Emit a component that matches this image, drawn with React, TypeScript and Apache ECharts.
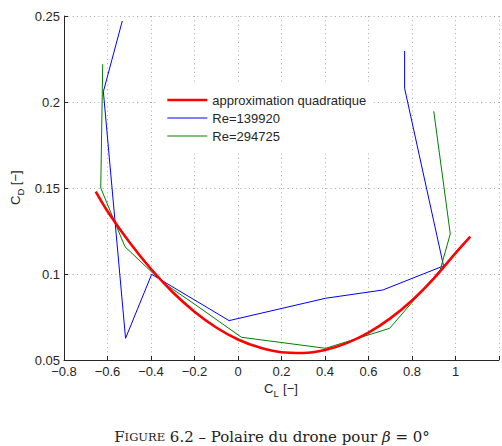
import React, { useEffect, useRef } from "react";
import * as echarts from "echarts";

// Quadratic drag-polar fit: C_D against C_L
const fitCL = [-0.654, -0.6, -0.5, -0.4, -0.3, -0.2, -0.1, 0, 0.1, 0.2, 0.3, 0.4, 0.5, 0.6, 0.7, 0.8, 0.9, 1.0, 1.068];
const fitCD = [0.1479, 0.1365, 0.1186, 0.1029, 0.0894, 0.0781, 0.0689, 0.0619, 0.0572, 0.0545, 0.0541, 0.0558, 0.0598, 0.0659, 0.0742, 0.0846, 0.0973, 0.1121, 0.1217];

// Measured polar, Re = 139920
const re1CL = [0.766, 0.766, 0.945, 0.666, 0.403, -0.041, -0.397, -0.517, -0.619, -0.532];
const re1CD = [0.2297, 0.208, 0.1047, 0.0907, 0.0859, 0.0729, 0.0998, 0.0626, 0.206, 0.2471];

// Measured polar, Re = 294725
const re2CL = [-0.622, -0.631, -0.52, -0.35, -0.2, 0.016, 0.403, 0.697, 0.93, 0.976, 0.9];
const re2CD = [0.222, 0.15, 0.1159, 0.0955, 0.0825, 0.0632, 0.0568, 0.0684, 0.1025, 0.1233, 0.1946];

const seriesNames = ["approximation quadratique", "Re=139920", "Re=294725"];

// Axis ranges and steps
const xMin = -0.8;
const xMax = 1.2;
const xStep = 0.2;
const yMin = 0.05;
const yMax = 0.25;
const yStep = 0.05;

const zip = (a: number[], b: number[]) => a.map((v, i) => [v, b[i]]);

const SANS = "'Liberation Sans', Arial, Helvetica, sans-serif";
const SERIF = "'DejaVu Serif', 'Liberation Serif', serif";
const INK = "#262626";

const fmt = (v: number) => String(+v.toFixed(2)).replace("-", "\u2212");

export default function App() {
  const ref = useRef<HTMLDivElement>(null);

  useEffect(() => {
    if (!ref.current) return;
    const chart = echarts.init(ref.current, undefined, { renderer: "svg" });

    const gridLine = { show: true, lineStyle: { color: "#a8a8a8", width: 1, type: [1, 3.3] as any } };

    chart.setOption({
      animation: false,
      backgroundColor: "#ffffff",
      grid: { left: 64, top: 16, width: 435, height: 344, containLabel: false },
      xAxis: {
        type: "value",
        min: xMin,
        max: xMax,
        interval: xStep,
        axisLine: { show: true, onZero: false, lineStyle: { color: INK, width: 1 } },
        axisTick: { show: true, inside: true, length: 4, lineStyle: { color: INK } },
        axisLabel: {
          color: INK,
          fontSize: 13,
          fontFamily: SANS,
          margin: 5,
          formatter: (v: number) => (Math.abs(v - xMax) < 1e-6 ? "" : fmt(v)),
        },
        splitLine: gridLine,
      },
      yAxis: {
        type: "value",
        min: yMin,
        max: yMax,
        interval: yStep,
        axisLine: { show: true, onZero: false, lineStyle: { color: INK, width: 1 } },
        axisTick: { show: true, inside: true, length: 4, lineStyle: { color: INK } },
        axisLabel: { color: INK, fontSize: 13, fontFamily: SANS, margin: 4, formatter: (v: number) => fmt(v) },
        splitLine: gridLine,
      },
      legend: {
        left: 158,
        top: 85,
        orient: "vertical",
        padding: [8.5, 6, 9.5, 8],
        itemGap: 5,
        itemWidth: 40,
        itemHeight: 14,
        backgroundColor: "#ffffff",
        itemStyle: { opacity: 0 },
        lineStyle: { width: "inherit" },
        textStyle: { color: INK, fontSize: 13, fontFamily: SANS, padding: [0, 0, 0, 0] },
        data: seriesNames,
      },
      series: [
        {
          name: seriesNames[0],
          type: "line",
          data: zip(fitCL, fitCD),
          smooth: 0.3,
          symbol: "none",
          lineStyle: { color: "#ff0000", width: 2.6 },
          itemStyle: { color: "#ff0000" },
          z: 3,
        },
        {
          name: seriesNames[1],
          type: "line",
          data: zip(re1CL, re1CD),
          symbol: "none",
          lineStyle: { color: "#0000ff", width: 1 },
          itemStyle: { color: "#0000ff" },
          z: 2,
        },
        {
          name: seriesNames[2],
          type: "line",
          data: zip(re2CL, re2CD),
          symbol: "none",
          lineStyle: { color: "#008000", width: 1 },
          itemStyle: { color: "#008000" },
          z: 2,
        },
      ],
      graphic: [
        // x-axis title: C_L [−]
        {
          type: "group",
          x: 281,
          y: 388,
          children: [
            { type: "text", x: -17, y: 0, style: { text: "C", fontSize: 13, fontFamily: SANS, fill: INK, textVerticalAlign: "middle" } },
            { type: "text", x: -7.4, y: 5, style: { text: "L", fontSize: 9.5, fontFamily: SANS, fill: INK, textVerticalAlign: "middle" } },
            { type: "text", x: -1.5, y: 0, style: { text: " [\u2212]", fontSize: 13, fontFamily: SANS, fill: INK, textVerticalAlign: "middle" } },
          ],
        },
        // y-axis title: C_D [−], rotated
        {
          type: "group",
          x: 15,
          y: 188,
          rotation: Math.PI / 2,
          children: [
            { type: "text", x: -17, y: 0, style: { text: "C", fontSize: 13, fontFamily: SANS, fill: INK, textVerticalAlign: "middle" } },
            { type: "text", x: -7.4, y: 5, style: { text: "D", fontSize: 9.5, fontFamily: SANS, fill: INK, textVerticalAlign: "middle" } },
            { type: "text", x: -0.8, y: 0, style: { text: " [\u2212]", fontSize: 13, fontFamily: SANS, fill: INK, textVerticalAlign: "middle" } },
          ],
        },
        // Figure caption
        {
          type: "text",
          x: 272,
          y: 437,
          style: {
            text: "{b|F}{s|IGURE}{b| 6.2 \u2013 Polaire du drone pour }{i|\u03b2}{b| = 0\u00b0}",
            textAlign: "center",
            textVerticalAlign: "middle",
            fill: "#222",
            rich: {
              b: { fontSize: 15, fontFamily: SERIF, fill: "#222" },
              s: { fontSize: 11.5, fontFamily: SERIF, fill: "#222" },
              i: { fontSize: 15, fontFamily: SERIF, fontStyle: "italic", fill: "#222" },
            },
          },
        },
      ],
    });

    return () => chart.dispose();
  }, []);

  return <div ref={ref} style={{ width: 502, height: 446, position: "absolute", left: 0, top: 0 }} />;
}
